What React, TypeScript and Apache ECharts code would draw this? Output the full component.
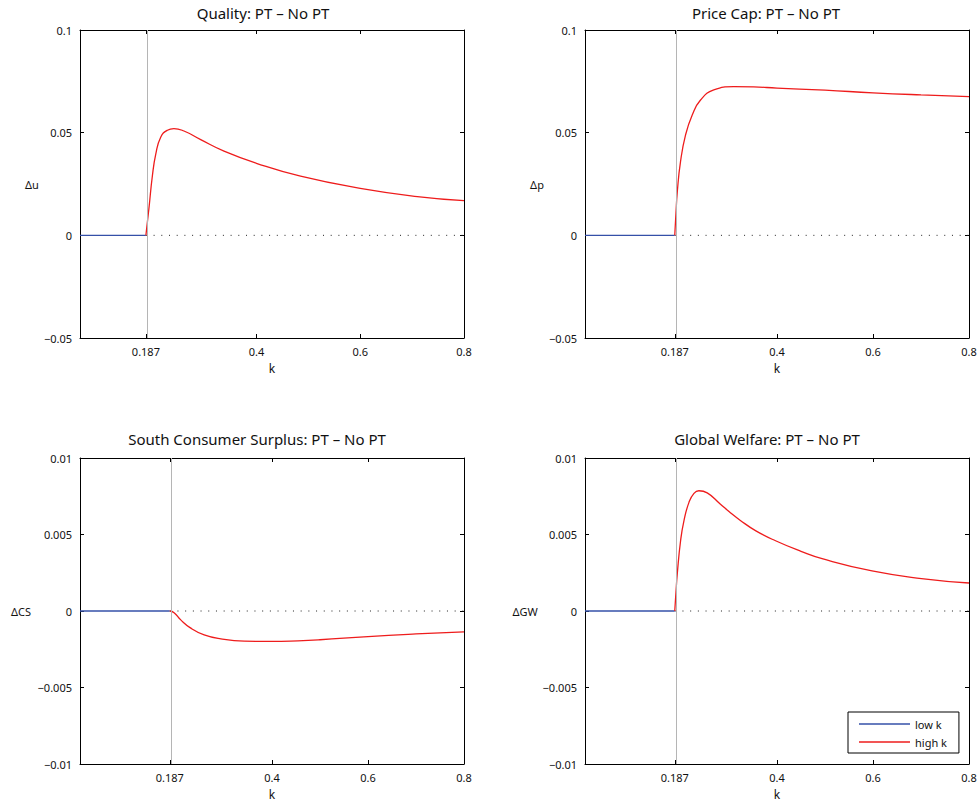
import React, { useEffect, useRef } from "react";
import * as echarts from "echarts";

// ---- data ----
const K_SWITCH = 0.187;
const X_MAX = 0.8;
const xTickValues = [0.187, 0.4, 0.6, 0.8];

const panelTitles = [
  "Quality: PT \u2013 No PT",
  "Price Cap: PT \u2013 No PT",
  "South Consumer Surplus: PT \u2013 No PT",
  "Global Welfare: PT \u2013 No PT",
];
const yAxisNames = ["\u0394u", "\u0394p", "\u0394CS", "\u0394GW"];
const xMins = [0.06, 0, 0, 0];
const yMins = [-0.05, -0.05, -0.01, -0.01];
const yMaxs = [0.1, 0.1, 0.01, 0.01];
const yIntervals = [0.05, 0.05, 0.005, 0.005];

const qualityHighK = [
  [0.187, 0], [0.19, 0.0068], [0.193, 0.0135], [0.1995, 0.029], [0.206, 0.0395], [0.2155, 0.0478],
  [0.2284, 0.0512], [0.241, 0.052], [0.2604, 0.0508], [0.2926, 0.0466], [0.3375, 0.041],
  [0.4, 0.0351], [0.485, 0.0288], [0.6, 0.0229], [0.71, 0.0189], [0.8, 0.0169],
];
const priceCapHighK = [
  [0.187, 0], [0.1895, 0.0108], [0.1923, 0.0212], [0.199, 0.0359], [0.2095, 0.0489], [0.2234, 0.0586],
  [0.2407, 0.0659], [0.2683, 0.0708], [0.3098, 0.0724], [0.3513, 0.0723], [0.4, 0.0717],
  [0.5, 0.0707], [0.6, 0.0694], [0.7, 0.0684], [0.8, 0.0676],
];
const southCSHighK = [
  [0.187, 0], [0.196, -0.00011], [0.2099, -0.00058], [0.2308, -0.00112], [0.2587, -0.00156],
  [0.2935, -0.00182], [0.3423, -0.00197], [0.398, -0.00199], [0.454, -0.00195], [0.5, -0.00188],
  [0.6, -0.00167], [0.7, -0.0015], [0.8, -0.00136],
];
const globalWelfareHighK = [
  [0.187, 0], [0.1895, 0.00122], [0.1923, 0.00245], [0.1992, 0.00461], [0.2062, 0.00591], [0.2166, 0.0071],
  [0.227, 0.00769], [0.2373, 0.00786], [0.2546, 0.00772], [0.2822, 0.00698], [0.3, 0.0065],
  [0.3237, 0.00592], [0.356, 0.00524], [0.397, 0.00459], [0.45, 0.0039], [0.494, 0.00342],
  [0.598, 0.00262], [0.701, 0.00212], [0.8, 0.00183],
];
const highKSeries = [qualityHighK, priceCapHighK, southCSHighK, globalWelfareHighK];
const legendNames = ["low k", "high k"];

// ---- layout ----
const FONT = "'Noto Sans', 'DejaVu Sans', sans-serif";
const grids = [
  { left: 80, top: 30, width: 384, height: 308 },
  { left: 585, top: 30, width: 384, height: 308 },
  { left: 80, top: 458, width: 384, height: 306 },
  { left: 585, top: 458, width: 384, height: 306 },
];
const titlePos = [
  { x: 263, y: 5 },
  { x: 766, y: 5 },
  { x: 257, y: 431 },
  { x: 767, y: 431 },
];
const yNameGaps = [48, 48, 59, 58];

const BLUE = "#3550a8";
const RED = "#ee1c1c";

function fmtY(v: number) {
  if (Math.abs(v) < 1e-12) return "0";
  const s = String(parseFloat(v.toFixed(6)));
  return s.replace("-", "\u2212");
}

export default function App() {
  const ref = useRef<HTMLDivElement>(null);
  useEffect(() => {
    document.body.style.margin = "0";
    const chart = echarts.init(ref.current!, null, { renderer: "svg" });
    const xAxis: any[] = [];
    const yAxis: any[] = [];
    const series: any[] = [];
    const title: any[] = [];
    grids.forEach((g, i) => {
      const axisLine = { show: true, onZero: false, lineStyle: { color: "#000", width: 1 } };
      const tick = { show: true, inside: true, length: 4, lineStyle: { color: "#000" } };
      xAxis.push({
        type: "value",
        gridIndex: i,
        min: xMins[i],
        max: X_MAX,
        position: "bottom",
        axisLine,
        axisTick: { ...tick, customValues: xTickValues },
        axisLabel: {
          show: true,
          customValues: xTickValues,
          margin: 8,
          fontSize: 11,
          fontFamily: FONT,
          color: "#111",
          formatter: (v: number) => String(parseFloat(v.toFixed(3))),
        },
        splitLine: { show: false },
        name: "k",
        nameLocation: "middle",
        nameGap: 24,
        nameTextStyle: { fontSize: 12, fontFamily: FONT, color: "#111" },
      });
      xAxis.push({
        type: "value",
        gridIndex: i,
        min: xMins[i],
        max: X_MAX,
        position: "top",
        axisLine,
        axisTick: { ...tick, customValues: xTickValues },
        axisLabel: { show: false },
        splitLine: { show: false },
      });
      yAxis.push({
        type: "value",
        gridIndex: i,
        min: yMins[i],
        max: yMaxs[i],
        interval: yIntervals[i],
        position: "left",
        axisLine,
        axisTick: tick,
        axisLabel: { margin: 8, fontSize: 11, fontFamily: FONT, color: "#111", formatter: fmtY },
        splitLine: { show: false },
        name: yAxisNames[i],
        nameLocation: "middle",
        nameRotate: 0,
        nameGap: yNameGaps[i],
        nameTextStyle: {
          fontSize: 11,
          fontFamily: FONT,
          color: "#111",
          align: "center",
          verticalAlign: "middle",
          padding: [0, 0, 18, 0],
        },
      });
      yAxis.push({
        type: "value",
        gridIndex: i,
        min: yMins[i],
        max: yMaxs[i],
        interval: yIntervals[i],
        position: "right",
        axisLine,
        axisTick: tick,
        axisLabel: { show: false },
        splitLine: { show: false },
      });
      title.push({
        text: panelTitles[i],
        left: titlePos[i].x,
        top: titlePos[i].y,
        textAlign: "center",
        padding: 0,
        textStyle: { fontSize: 15, fontWeight: "normal", fontFamily: FONT, color: "#111" },
      });
      // zero reference (dotted) + vertical threshold line
      series.push({
        type: "line",
        xAxisIndex: 2 * i,
        yAxisIndex: 2 * i,
        data: [[K_SWITCH, 0], [X_MAX, 0]],
        symbol: "none",
        silent: true,
        z: 1,
        lineStyle: { color: "#222", width: 1, type: [1, 6.7] },
        markLine: {
          silent: true,
          symbol: ["none", "none"],
          label: { show: false },
          lineStyle: { color: "#b5b5b5", width: 1, type: "solid" },
          data: [{ xAxis: K_SWITCH }],
        },
      });
      series.push({
        name: legendNames[0],
        type: "line",
        xAxisIndex: 2 * i,
        yAxisIndex: 2 * i,
        data: [[xMins[i], 0], [K_SWITCH, 0]],
        symbol: "none",
        z: 3,
        lineStyle: { color: BLUE, width: 1.3 },
        itemStyle: { color: BLUE },
      });
      series.push({
        name: legendNames[1],
        type: "line",
        xAxisIndex: 2 * i,
        yAxisIndex: 2 * i,
        data: highKSeries[i],
        symbol: "none",
        smooth: 0.5,
        z: 3,
        lineStyle: { color: RED, width: 1.3 },
        itemStyle: { color: RED },
      });
    });

    chart.setOption({
      animation: false,
      backgroundColor: "#fff",
      title,
      grid: grids.map((g) => ({ ...g, containLabel: false })),
      xAxis,
      yAxis,
      series,
      legend: {
        data: legendNames.map((n) => ({ name: n, icon: "rect" })),
        orient: "vertical",
        left: 848,
        top: 712,
        itemWidth: 51,
        itemHeight: 1.5,
        itemGap: 4,
        padding: [5, 12, 4, 11],
        borderColor: "#000",
        borderWidth: 1,
        backgroundColor: "#fff",
        selectedMode: false,
        textStyle: { fontSize: 11, lineHeight: 14, fontFamily: FONT, color: "#111" },
      },
    });
    return () => chart.dispose();
  }, []);
  return (
    <div
      ref={ref}
      style={{ position: "absolute", left: 0, top: 0, width: 980, height: 804 }}
    />
  );
}
